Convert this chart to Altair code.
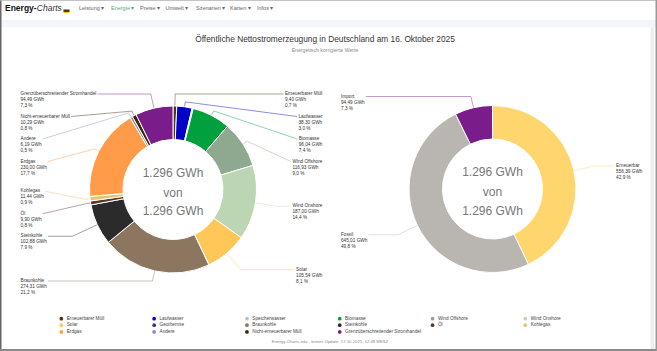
import math
import altair as alt
import pandas as pd

W, H = 657, 351

# ------------------------------------------------------------------ data
left_names = ["Erneuerbarer Müll", "Laufwasser", "Speicherwasser", "Biomasse",
              "Wind Offshore", "Wind Onshore", "Solar", "Geothermie",
              "Braunkohle", "Steinkohle", "Öl", "Kohlegas", "Erdgas", "Andere",
              "Nicht-erneuerbarer Müll", "Grenzüberschreitender Stromhandel"]
left_values = [9.40, 38.30, 2.90, 96.04, 116.93, 187.00, 105.54, 0.28,
               274.31, 102.88, 9.90, 11.44, 230.00, 6.19, 10.29, 94.49]
left_colors = ["#4b3318", "#0000c8", "#aac4e4", "#00a03c", "#8fa890", "#bcd6b4",
               "#ffc757", "#3c2d86", "#8c7660", "#2b2b2b", "#5a3a28", "#e3c57c",
               "#ff9b49", "#8c8cba", "#3d2708", "#7a1d8b"]
left_labeled = [True, True, False, True, True, True, True, False,
                True, True, True, True, True, True, True, True]

right_names = ["Erneuerbar", "Fossil", "Import"]
right_values = [556.39, 645.01, 94.49]
right_colors = ["#ffd56e", "#b9b5b1", "#7a1d8b"]

title_text = "Öffentliche Nettostromerzeugung in Deutschland am 16. Oktober 2025"
subtitle_text = "Energetisch korrigierte Werte"
footer_text = "Energy-Charts.info - letztes Update: 17.10.2025, 12:48 MESZ"
nav_items = ["Leistung", "Energie", "Preise", "Umwelt", "Szenarien", "Karten", "Infos"]

# ------------------------------------------------------------------ helpers
FONT = "Liberation Sans"
AW = {c: w for c, w in zip("abcdefghijklmnopqrstuvwxyz",
      [556, 556, 500, 556, 556, 278, 556, 556, 222, 222, 500, 222, 833, 556, 556, 556,
       556, 333, 500, 278, 556, 500, 722, 500, 500, 500])}
AW.update({c: w for c, w in zip("ABCDEFGHIJKLMNOPQRSTUVWXYZ",
      [667, 667, 722, 722, 667, 611, 778, 722, 278, 500, 667, 556, 833, 722, 778, 667,
       778, 722, 667, 611, 722, 667, 944, 667, 667, 611])})
AW.update({d: 556 for d in "0123456789"})
AW.update({" ": 278, ",": 278, ".": 278, "-": 333, "%": 889, ":": 278,
           "ü": 556, "ö": 556, "ä": 556, "Ö": 778})


def tw(s, fs):
    return sum(AW.get(ch, 556) for ch in s) / 1000.0 * fs


def de2(v):
    return f"{v:,.2f}".replace(",", "X").replace(".", ",").replace("X", ".")


def de_pct(p):
    return f"{p * 100:.1f}".replace(".", ",") + " %"


def de_int(v):
    return f"{round(v):,}".replace(",", ".")


LFS = 4.7      # label font size
LH = 6.0       # label line height
DIST = 21.5    # label distance from pie edge
SP = 22.5      # minimal vertical label spacing
R_OUT, R_IN = 83.5, 50


def distribute(nat, lo, hi):
    clusters = [[i] for i in range(len(nat))]

    def start(cl):
        k = len(cl)
        c = sum(nat[i] for i in cl) / k
        s = c - (k - 1) * SP / 2
        return max(lo, min(s, hi - (k - 1) * SP))

    changed = True
    while changed:
        changed = False
        for j in range(len(clusters) - 1):
            a, b = clusters[j], clusters[j + 1]
            if start(a) + len(a) * SP > start(b) + 1e-9:
                clusters[j] = a + b
                del clusters[j + 1]
                changed = True
                break
    pos = [0.0] * len(nat)
    for cl in clusters:
        s = start(cl)
        for m, i in enumerate(cl):
            pos[i] = s + m * SP
    return pos


def donut_labels(key, names, values, colors, labeled, cx, cy, top, bottom, xl, xr):
    total = sum(values)
    cum = 0.0
    items = []
    for n, v, c, show in zip(names, values, colors, labeled):
        mid = (cum + v / 2) / total * 2 * math.pi
        cum += v
        if not show:
            continue
        items.append(dict(name=n, v=v, c=c, mid=mid,
                          nat=cy - (R_OUT + DIST) * math.cos(mid),
                          side="R" if math.sin(mid) > 0 else "L"))
    for side in "LR":
        its = sorted([t for t in items if t["side"] == side], key=lambda t: t["nat"])
        pos = distribute([t["nat"] for t in its], top, bottom)
        for t, p in zip(its, pos):
            t["y"] = p
    labels, pts = [], []
    for t in items:
        lines = [t["name"], de2(t["v"]) + " GWh", de_pct(t["v"] / total)]
        bw = max(tw(s, LFS) for s in lines)
        y = t["y"]
        if t["side"] == "L":
            lx = xl
            ax = xl + bw + 1.0
        else:
            lx = xr - bw
            ax = lx - 1.5
        labels.append(dict(x=lx, y=y, label="\n".join(lines)))
        m = t["mid"]
        bx, by = cx + (R_OUT + 5) * math.sin(m), cy - (R_OUT + 5) * math.cos(m)
        sx, sy = cx + R_OUT * math.sin(m), cy - R_OUT * math.cos(m)
        path = [(ax, y)]
        if abs(math.cos(m)) > 1e-6:
            crook = cx + (cy - y) * math.tan(m)
            if t["side"] == "R":
                ok = bx <= crook <= ax
            else:
                ok = ax <= crook <= bx
            if ok:
                path.append((crook, y))
        path += [(bx, by), (sx, sy)]
        for i, (px, py) in enumerate(path):
            pts.append(dict(lid=key + t["name"], pidx=i, x=px, y=py, color=t["c"]))
    return labels, pts


LCX, LCY = 173, 189.5
RCX, RCY = 492.5, 189
l_labels, l_pts = donut_labels("L", left_names, left_values, left_colors, left_labeled,
                               LCX, LCY, 94, 281, 20.5, 322.5)
r_labels, r_pts = donut_labels("R", right_names, right_values, right_colors,
                               [True] * 3, RCX, RCY, 96.5, 281, 341, 642.5)

SX = alt.Scale(domain=[0, W], nice=False, zero=False)
SY = alt.Scale(domain=[H, 0], nice=False, zero=False)


def X(f):
    return alt.X(f, type="quantitative", scale=SX, axis=None)


def Y(f):
    return alt.Y(f, type="quantitative", scale=SY, axis=None)


# ------------------------------------------------------------------ decorations
deco = pd.DataFrame([
    dict(x=0, x2=W, y=20, y2=27.5, f="#f3f5f8"),
    dict(x=0, x2=1.5, y=0, y2=H, f="#666666"),
    dict(x=0, x2=W, y=0, y2=0.8, f="#b0b0b0"),
    dict(x=0, x2=W, y=349, y2=H, f="#8a8a8a"),
    dict(x=650.5, x2=654, y=27.5, y2=349, f="#eeeeee"),
    dict(x=655.5, x2=W, y=0, y2=H, f="#999999"),
    dict(x=63.5, x2=69.5, y=9.6, y2=10.8, f="#000000"),
    dict(x=63.5, x2=69.5, y=10.8, y2=12.0, f="#dd0000"),
    dict(x=63.5, x2=69.5, y=12.0, y2=13.2, f="#ffce00"),
])
deco_layer = alt.Chart(deco).mark_rect().encode(
    x=X("x"), x2="x2", y=Y("y"), y2="y2", fill=alt.Fill("f:N", scale=None))


def text_layer(rows, **mk):
    df = pd.DataFrame(rows)
    enc = dict(x=X("x"), y=Y("y"), text="text:N")
    if "f" in df.columns:
        enc["fill"] = alt.Fill("f:N", scale=None)
    return alt.Chart(df).mark_text(font=FONT, **mk).encode(**enc)


logo_bold = text_layer([dict(x=5, y=11, text="Energy-")], fontSize=8.5, fontWeight="bold",
                       align="left", baseline="alphabetic", color="#111111")
logo_it = text_layer([dict(x=5 + 31.8, y=11, text="Charts")], fontSize=8.5, fontStyle="italic",
                     align="left", baseline="alphabetic", color="#333333")
nav_x = [79, 111, 140, 165.5, 196, 230, 257]
nav_rows = [dict(x=x, y=7.8, text=n + " ▾", f=("#5fa37a" if n == "Energie" else "#666666"))
            for x, n in zip(nav_x, nav_items)]
nav = text_layer(nav_rows, fontSize=5.5, align="left", baseline="middle")

title_fs = 260 / (tw(title_text, 1))
sub_fs = 67 / (tw(subtitle_text, 1))
foot_fs = 117 / (tw(footer_text, 1))
title = text_layer([dict(x=325, y=40, text=title_text)], fontSize=title_fs,
                   align="center", baseline="middle", color="#333333")
subtitle = text_layer([dict(x=325, y=50, text=subtitle_text)], fontSize=sub_fs,
                      align="center", baseline="middle", color="#8a8a8a")
footer = text_layer([dict(x=330, y=342, text=footer_text)], fontSize=foot_fs,
                    align="center", baseline="middle", color="#8a8a8a")

# ------------------------------------------------------------------ donuts
ldf = pd.DataFrame(dict(name=left_names, value=left_values, idx=range(len(left_names))))
rdf = pd.DataFrame(dict(name=right_names, value=right_values, color=right_colors,
                        idx=range(len(right_names))))

left_arc = alt.Chart(ldf).mark_arc(outerRadius=R_OUT, innerRadius=R_IN, stroke="white",
                                   strokeWidth=1).encode(
    x=alt.value(LCX), y=alt.value(LCY),
    theta=alt.Theta("value:Q", stack=True),
    order=alt.Order("idx:Q", sort="ascending"),
    color=alt.Color("name:N", scale=alt.Scale(domain=left_names, range=left_colors),
                    legend=alt.Legend(title=None, orient="none", legendX=59, legendY=316,
                                      direction="horizontal",
                                      columns=6, gridAlign="all", symbolType="circle",
                                      symbolSize=14, symbolStrokeWidth=0,
                                      labelFont=FONT, labelFontSize=LFS,
                                      labelColor="#444444", labelOffset=3,
                                      rowPadding=0.8, columnPadding=8.8, padding=0,
                                      labelLimit=200)),
)
right_arc = alt.Chart(rdf).mark_arc(outerRadius=R_OUT, innerRadius=R_IN, stroke="white",
                                    strokeWidth=1).encode(
    x=alt.value(RCX), y=alt.value(RCY),
    theta=alt.Theta("value:Q", stack=True),
    order=alt.Order("idx:Q", sort="ascending"),
    fill=alt.Fill("color:N", scale=None),
)

pts_df = pd.DataFrame(l_pts + r_pts)
leaders = alt.Chart(pts_df).mark_line(strokeWidth=0.6, strokeOpacity=0.75).encode(
    x=X("x"), y=Y("y"), detail="lid:N", order="pidx:Q",
    stroke=alt.Stroke("color:N", scale=None))

lab_df = pd.DataFrame(l_labels + r_labels)
labels = alt.Chart(lab_df).mark_text(font=FONT, fontSize=LFS, lineBreak="\n", lineHeight=LH,
                                     align="left", baseline="middle", color="#333333").encode(
    x=X("x"), y=Y("y"), text="label:N")

ltot = de_int(sum(left_values)) + " GWh"
rtot = de_int(sum(right_values)) + " GWh"
center_rows = []
for cx, cy, tot in [(LCX, LCY, ltot), (RCX, RCY, rtot)]:
    center_rows += [dict(x=cx, y=cy - 17, text=tot), dict(x=cx, y=cy + 3, text="von"),
                    dict(x=cx, y=cy + 21.5, text=tot)]
center = text_layer(center_rows, fontSize=12, align="center", baseline="middle",
                    color="#777777")

chart = alt.layer(
    deco_layer, logo_bold, logo_it, nav, title, subtitle, footer,
    leaders, left_arc, right_arc, labels, center,
).resolve_scale(theta="independent").properties(
    width=W, height=H, padding=0, autosize=alt.AutoSizeParams(type="none"),
    background="white",
).configure_view(strokeWidth=0)

chart.save("out.html", embed_options={"renderer": "svg", "actions": False})
